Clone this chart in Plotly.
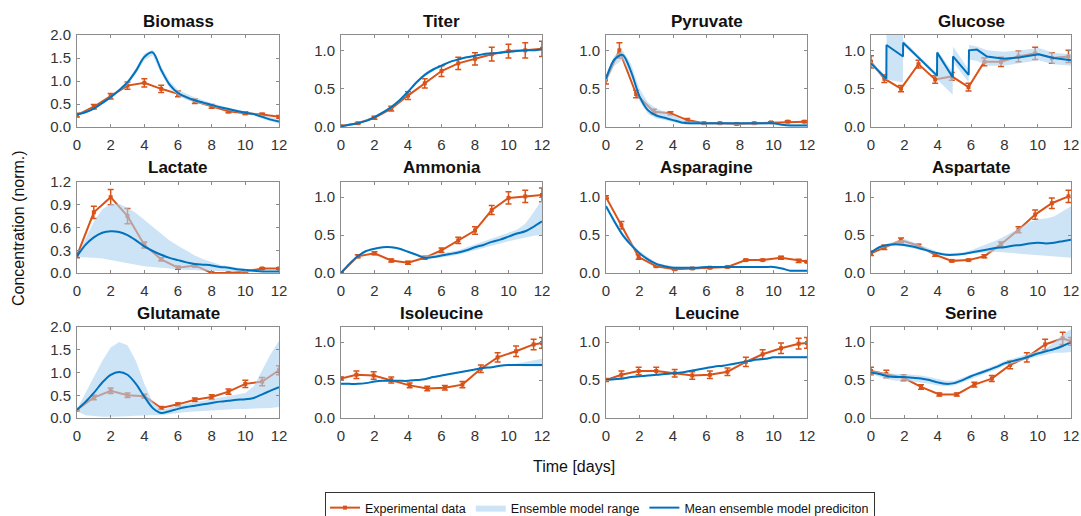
import plotly.graph_objects as go

# ---------------- data ----------------
T_EXP_A = [0, 1, 2, 3, 4, 5, 6, 7, 8, 9, 10, 11, 12]
T_EXP_B = [0, 0.92, 1.95, 3.0, 4.1, 5.15, 6.2, 7.25, 8.35, 9.35, 10.45, 11.5, 12]
T_EXP_C = [0, 0.8, 1.8, 2.85, 3.85, 4.85, 5.85, 6.8, 7.8, 8.85, 9.85, 10.85, 11.85]
T_MODEL = [0, 0.5, 1, 1.5, 2, 2.5, 3, 3.5, 4, 4.5, 5, 5.5, 6, 6.5, 7, 7.5, 8, 8.5,
           9, 9.5, 10, 10.5, 11, 11.5, 12]
T_GLUCOSE = [0, 0.92, 0.93, 1.92, 1.93, 3.0, 3.96, 3.97, 4.9, 4.92, 5.86, 5.88, 6.36,
             6.96, 7.96, 8.96, 10.06, 10.96, 12]

biomass_exp = [0.26, 0.44, 0.67, 0.90, 0.96, 0.83, 0.72, 0.56, 0.45, 0.34, 0.30, 0.27, 0.22]
biomass_err = [0.04, 0.05, 0.06, 0.08, 0.09, 0.08, 0.06, 0.05, 0.04, 0.03, 0.03, 0.03, 0.03]
biomass_mean = [0.27, 0.32, 0.40, 0.52, 0.65, 0.80, 0.97, 1.22, 1.52, 1.62, 1.24, 0.92, 0.74,
                0.65, 0.58, 0.53, 0.48, 0.43, 0.39, 0.35, 0.31, 0.28, 0.22, 0.16, 0.12]
biomass_lo = [0.25, 0.30, 0.38, 0.50, 0.62, 0.77, 0.92, 1.15, 1.45, 1.56, 1.16, 0.85, 0.68,
              0.59, 0.53, 0.49, 0.44, 0.40, 0.36, 0.32, 0.28, 0.25, 0.18, 0.12, 0.07]
biomass_hi = [0.29, 0.34, 0.42, 0.54, 0.68, 0.83, 1.01, 1.28, 1.59, 1.68, 1.32, 1.00, 0.81,
              0.72, 0.64, 0.58, 0.52, 0.47, 0.42, 0.38, 0.34, 0.31, 0.26, 0.21, 0.17]

titer_exp = [0.01, 0.05, 0.12, 0.24, 0.41, 0.57, 0.73, 0.83, 0.89, 0.95, 0.99, 1.00, 1.02]
titer_err = [0.01, 0.01, 0.02, 0.03, 0.05, 0.06, 0.07, 0.08, 0.08, 0.09, 0.09, 0.10, 0.10]
titer_mean = [0.01, 0.03, 0.05, 0.08, 0.13, 0.19, 0.26, 0.35, 0.46, 0.58, 0.68, 0.75, 0.80,
              0.85, 0.88, 0.91, 0.93, 0.95, 0.96, 0.97, 0.98, 0.99, 1.00, 1.00, 1.01]
titer_lo = [0.00, 0.02, 0.04, 0.07, 0.12, 0.18, 0.24, 0.33, 0.44, 0.56, 0.66, 0.73, 0.79,
            0.84, 0.87, 0.90, 0.92, 0.94, 0.95, 0.96, 0.97, 0.98, 0.99, 0.99, 1.00]
titer_hi = [0.02, 0.04, 0.06, 0.09, 0.14, 0.20, 0.28, 0.37, 0.48, 0.60, 0.70, 0.77, 0.82,
            0.86, 0.89, 0.92, 0.94, 0.96, 0.97, 0.98, 0.99, 1.00, 1.01, 1.01, 1.02]

pyruvate_exp = [0.62, 1.00, 0.43, 0.20, 0.18, 0.09, 0.05, 0.05, 0.04, 0.05, 0.06, 0.07, 0.07]
pyruvate_err = [0.06, 0.10, 0.05, 0.03, 0.02, 0.02, 0.01, 0.01, 0.01, 0.01, 0.01, 0.01, 0.01]
pyruvate_mean = [0.63, 0.88, 0.94, 0.72, 0.40, 0.22, 0.15, 0.12, 0.09, 0.06, 0.05, 0.05, 0.05,
                 0.05, 0.05, 0.05, 0.05, 0.05, 0.05, 0.05, 0.05, 0.03, 0.02, 0.02, 0.02]
pyruvate_lo = [0.58, 0.80, 0.88, 0.66, 0.34, 0.17, 0.11, 0.09, 0.07, 0.04, 0.03, 0.03, 0.03,
               0.03, 0.03, 0.03, 0.03, 0.03, 0.03, 0.03, 0.03, 0.02, 0.01, 0.01, 0.01]
pyruvate_hi = [0.68, 0.93, 1.00, 0.82, 0.50, 0.32, 0.24, 0.20, 0.16, 0.10, 0.07, 0.07, 0.06,
               0.06, 0.06, 0.06, 0.06, 0.06, 0.06, 0.06, 0.06, 0.05, 0.04, 0.04, 0.04]

glucose_exp = [0.85, 0.63, 0.50, 0.82, 0.62, 0.66, 0.52, 0.85, 0.85, 0.92, 0.96, 0.90, 0.92]
glucose_err = [0.08, 0.05, 0.04, 0.05, 0.05, 0.05, 0.05, 0.05, 0.06, 0.07, 0.08, 0.07, 0.08]
glucose_mean = [0.83, 0.63, 1.07, 0.92, 1.10, 0.88, 0.67, 0.97, 0.65, 0.92, 0.68, 1.00, 1.01,
                0.92, 0.89, 0.91, 0.95, 0.90, 0.87]
glucose_lo = [0.80, 0.61, 0.62, 0.58, 1.07, 0.85, 0.64, 0.62, 0.42, 0.85, 0.58, 0.88, 0.86,
              0.80, 0.80, 0.83, 0.87, 0.82, 0.80]
glucose_hi = [0.86, 0.66, 1.25, 1.25, 1.13, 0.91, 0.70, 1.00, 0.72, 1.05, 0.75, 1.07, 1.05,
              1.00, 0.98, 1.00, 1.03, 0.97, 0.95]

lactate_exp = [0.23, 0.80, 1.00, 0.75, 0.37, 0.18, 0.07, 0.10, 0.00, 0.00, 0.02, 0.06, 0.06]
lactate_err = [0.03, 0.08, 0.10, 0.10, 0.04, 0.02, 0.02, 0.02, 0.01, 0.01, 0.01, 0.01, 0.01]
lactate_mean = [0.22, 0.37, 0.47, 0.53, 0.55, 0.54, 0.50, 0.43, 0.35, 0.29, 0.24, 0.20, 0.17,
                0.14, 0.12, 0.11, 0.10, 0.08, 0.07, 0.05, 0.04, 0.03, 0.02, 0.02, 0.02]
lactate_lo = [0.21, 0.21, 0.20, 0.19, 0.17, 0.15, 0.13, 0.11, 0.09, 0.08, 0.07, 0.06, 0.05,
              0.04, 0.04, 0.03, 0.03, 0.02, 0.02, 0.02, 0.01, 0.01, 0.01, 0.01, 0.01]
lactate_hi = [0.22, 0.45, 0.68, 0.84, 0.91, 0.91, 0.86, 0.79, 0.70, 0.61, 0.52, 0.43, 0.36,
              0.29, 0.23, 0.18, 0.14, 0.11, 0.09, 0.07, 0.05, 0.04, 0.03, 0.03, 0.03]

ammonia_exp = [0.00, 0.22, 0.26, 0.165, 0.135, 0.20, 0.30, 0.43, 0.56, 0.83, 0.99, 1.01, 1.03]
ammonia_err = [0.01, 0.02, 0.02, 0.02, 0.02, 0.02, 0.03, 0.04, 0.05, 0.06, 0.08, 0.08, 0.09]
ammonia_mean = [0.00, 0.12, 0.22, 0.29, 0.32, 0.34, 0.34, 0.32, 0.28, 0.24, 0.20, 0.21, 0.23,
                0.25, 0.27, 0.30, 0.34, 0.37, 0.41, 0.44, 0.48, 0.52, 0.55, 0.61, 0.68]
ammonia_lo = [0.00, 0.11, 0.21, 0.28, 0.31, 0.33, 0.33, 0.31, 0.27, 0.23, 0.19, 0.19, 0.21,
              0.22, 0.24, 0.26, 0.30, 0.33, 0.36, 0.39, 0.42, 0.45, 0.47, 0.49, 0.50]
ammonia_hi = [0.00, 0.13, 0.23, 0.30, 0.33, 0.35, 0.35, 0.33, 0.29, 0.25, 0.22, 0.24, 0.26,
              0.28, 0.30, 0.34, 0.38, 0.42, 0.46, 0.49, 0.53, 0.57, 0.65, 0.80, 0.97]

asparagine_exp = [1.00, 0.63, 0.21, 0.09, 0.05, 0.06, 0.07, 0.08, 0.17, 0.17, 0.20, 0.16, 0.15]
asparagine_err = [0.02, 0.05, 0.03, 0.01, 0.01, 0.01, 0.01, 0.01, 0.01, 0.01, 0.02, 0.02, 0.01]
asparagine_mean = [0.88, 0.68, 0.50, 0.37, 0.26, 0.18, 0.12, 0.09, 0.07, 0.07, 0.07, 0.07, 0.08,
                   0.08, 0.08, 0.08, 0.08, 0.08, 0.08, 0.08, 0.08, 0.06, 0.03, 0.03, 0.03]
asparagine_lo = [0.85, 0.65, 0.47, 0.34, 0.24, 0.16, 0.10, 0.08, 0.06, 0.06, 0.06, 0.06, 0.07,
                 0.07, 0.07, 0.07, 0.07, 0.07, 0.07, 0.07, 0.07, 0.05, 0.02, 0.02, 0.02]
asparagine_hi = [0.91, 0.71, 0.53, 0.40, 0.29, 0.21, 0.14, 0.11, 0.09, 0.08, 0.08, 0.08, 0.09,
                 0.09, 0.09, 0.09, 0.09, 0.09, 0.09, 0.09, 0.09, 0.07, 0.04, 0.04, 0.04]

aspartate_exp = [0.26, 0.34, 0.43, 0.36, 0.24, 0.16, 0.17, 0.22, 0.38, 0.57, 0.77, 0.92, 1.01]
aspartate_err = [0.03, 0.03, 0.03, 0.02, 0.02, 0.01, 0.01, 0.02, 0.03, 0.04, 0.06, 0.07, 0.08]
aspartate_mean = [0.27, 0.34, 0.37, 0.38, 0.37, 0.35, 0.32, 0.29, 0.26, 0.24, 0.24, 0.25, 0.27,
                  0.29, 0.31, 0.33, 0.34, 0.36, 0.37, 0.39, 0.40, 0.39, 0.40, 0.42, 0.44]
aspartate_lo = [0.26, 0.32, 0.35, 0.36, 0.35, 0.33, 0.30, 0.27, 0.25, 0.23, 0.23, 0.24, 0.25,
                0.26, 0.27, 0.28, 0.28, 0.27, 0.26, 0.25, 0.24, 0.23, 0.22, 0.21, 0.20]
aspartate_hi = [0.28, 0.36, 0.39, 0.42, 0.45, 0.41, 0.37, 0.32, 0.28, 0.26, 0.26, 0.27, 0.30,
                0.34, 0.38, 0.43, 0.48, 0.54, 0.61, 0.67, 0.71, 0.72, 0.75, 0.81, 0.88]

glutamate_exp = [0.18, 0.45, 0.60, 0.50, 0.48, 0.22, 0.30, 0.40, 0.46, 0.58, 0.75, 0.80, 1.05]
glutamate_err = [0.02, 0.05, 0.06, 0.05, 0.04, 0.03, 0.03, 0.04, 0.05, 0.06, 0.08, 0.09, 0.10]
glutamate_mean = [0.18, 0.35, 0.55, 0.78, 0.95, 1.01, 0.95, 0.75, 0.47, 0.22, 0.11, 0.15, 0.20,
                  0.24, 0.27, 0.30, 0.33, 0.36, 0.38, 0.40, 0.41, 0.44, 0.52, 0.60, 0.68]
glutamate_lo = [0.15, 0.06, 0.04, 0.03, 0.03, 0.03, 0.04, 0.05, 0.06, 0.06, 0.06, 0.08, 0.11,
                0.13, 0.15, 0.16, 0.17, 0.18, 0.19, 0.20, 0.20, 0.20, 0.21, 0.22, 0.24]
glutamate_hi = [0.20, 0.55, 0.90, 1.25, 1.55, 1.67, 1.60, 1.25, 0.75, 0.35, 0.18, 0.22, 0.28,
                0.31, 0.35, 0.38, 0.42, 0.45, 0.48, 0.51, 0.55, 0.70, 1.05, 1.40, 1.70]

isoleucine_exp = [0.52, 0.57, 0.56, 0.50, 0.43, 0.39, 0.40, 0.44, 0.65, 0.80, 0.88, 0.97, 0.99]
isoleucine_err = [0.02, 0.05, 0.05, 0.04, 0.03, 0.03, 0.03, 0.04, 0.05, 0.06, 0.07, 0.07, 0.07]
isoleucine_mean = [0.45, 0.45, 0.45, 0.46, 0.48, 0.49, 0.49, 0.49, 0.49, 0.50, 0.51, 0.54, 0.56,
                   0.58, 0.60, 0.62, 0.64, 0.66, 0.67, 0.69, 0.70, 0.70, 0.70, 0.70, 0.70]
isoleucine_lo = [0.44, 0.44, 0.44, 0.45, 0.47, 0.48, 0.48, 0.48, 0.48, 0.49, 0.50, 0.53, 0.55,
                 0.57, 0.59, 0.61, 0.63, 0.65, 0.66, 0.68, 0.69, 0.69, 0.68, 0.68, 0.68]
isoleucine_hi = [0.46, 0.46, 0.46, 0.47, 0.49, 0.50, 0.50, 0.50, 0.50, 0.51, 0.52, 0.55, 0.57,
                 0.59, 0.61, 0.63, 0.65, 0.67, 0.68, 0.70, 0.71, 0.72, 0.74, 0.76, 0.78]

leucine_exp = [0.50, 0.57, 0.62, 0.62, 0.59, 0.56, 0.57, 0.61, 0.74, 0.84, 0.92, 0.98, 0.99]
leucine_err = [0.02, 0.05, 0.05, 0.05, 0.05, 0.05, 0.05, 0.05, 0.06, 0.06, 0.07, 0.07, 0.07]
leucine_mean = [0.50, 0.51, 0.52, 0.54, 0.55, 0.56, 0.57, 0.58, 0.59, 0.60, 0.62, 0.64, 0.66,
                0.68, 0.69, 0.71, 0.73, 0.75, 0.77, 0.78, 0.80, 0.80, 0.80, 0.80, 0.80]
leucine_lo = [0.49, 0.50, 0.51, 0.53, 0.54, 0.55, 0.56, 0.57, 0.58, 0.59, 0.61, 0.63, 0.65,
              0.67, 0.68, 0.70, 0.72, 0.74, 0.76, 0.77, 0.79, 0.79, 0.79, 0.79, 0.79]
leucine_hi = [0.51, 0.52, 0.53, 0.55, 0.56, 0.57, 0.58, 0.59, 0.60, 0.61, 0.63, 0.65, 0.67,
              0.69, 0.70, 0.72, 0.74, 0.76, 0.78, 0.79, 0.81, 0.81, 0.81, 0.81, 0.82]

serine_exp = [0.62, 0.58, 0.53, 0.41, 0.31, 0.31, 0.44, 0.52, 0.70, 0.80, 0.97, 1.05, 1.01]
serine_err = [0.05, 0.05, 0.04, 0.03, 0.02, 0.02, 0.03, 0.04, 0.05, 0.06, 0.07, 0.08, 0.05]
serine_mean = [0.60, 0.58, 0.55, 0.54, 0.54, 0.53, 0.52, 0.50, 0.47, 0.45, 0.46, 0.50, 0.55,
               0.59, 0.63, 0.67, 0.72, 0.75, 0.78, 0.81, 0.85, 0.88, 0.91, 0.95, 1.00]
serine_lo = [0.58, 0.55, 0.51, 0.49, 0.49, 0.48, 0.47, 0.45, 0.43, 0.42, 0.43, 0.47, 0.52,
             0.56, 0.60, 0.64, 0.69, 0.72, 0.75, 0.78, 0.81, 0.84, 0.86, 0.86, 0.87]
serine_hi = [0.62, 0.61, 0.59, 0.58, 0.58, 0.57, 0.56, 0.54, 0.52, 0.49, 0.49, 0.53, 0.58,
             0.62, 0.66, 0.70, 0.75, 0.78, 0.81, 0.84, 0.88, 0.92, 1.00, 1.10, 1.17]

X_TICKS = [0, 2, 4, 6, 8, 10, 12]
Y_TICKS_2 = [0, 0.5, 1.0, 1.5, 2.0]
Y_TICKS_1 = [0, 0.5, 1.0]
Y_TICKS_L = [0, 0.3, 0.6, 0.9, 1.2]

panels = [
    ("Biomass", T_EXP_A, biomass_exp, biomass_err, T_MODEL, biomass_mean, biomass_lo, biomass_hi, 2.0, Y_TICKS_2),
    ("Titer", T_EXP_A, titer_exp, titer_err, T_MODEL, titer_mean, titer_lo, titer_hi, 1.2, Y_TICKS_1),
    ("Pyruvate", T_EXP_C, pyruvate_exp, pyruvate_err, T_MODEL, pyruvate_mean, pyruvate_lo, pyruvate_hi, 1.2, Y_TICKS_1),
    ("Glucose", T_EXP_C, glucose_exp, glucose_err, T_GLUCOSE, glucose_mean, glucose_lo, glucose_hi, 1.2, Y_TICKS_1),
    ("Lactate", T_EXP_A, lactate_exp, lactate_err, T_MODEL, lactate_mean, lactate_lo, lactate_hi, 1.2, Y_TICKS_L),
    ("Ammonia", T_EXP_A, ammonia_exp, ammonia_err, T_MODEL, ammonia_mean, ammonia_lo, ammonia_hi, 1.2, Y_TICKS_1),
    ("Asparagine", T_EXP_B, asparagine_exp, asparagine_err, T_MODEL, asparagine_mean, asparagine_lo, asparagine_hi, 1.2, Y_TICKS_1),
    ("Aspartate", T_EXP_C, aspartate_exp, aspartate_err, T_MODEL, aspartate_mean, aspartate_lo, aspartate_hi, 1.2, Y_TICKS_1),
    ("Glutamate", T_EXP_A, glutamate_exp, glutamate_err, T_MODEL, glutamate_mean, glutamate_lo, glutamate_hi, 2.0, Y_TICKS_2),
    ("Isoleucine", T_EXP_B, isoleucine_exp, isoleucine_err, T_MODEL, isoleucine_mean, isoleucine_lo, isoleucine_hi, 1.2, Y_TICKS_1),
    ("Leucine", T_EXP_B, leucine_exp, leucine_err, T_MODEL, leucine_mean, leucine_lo, leucine_hi, 1.2, Y_TICKS_1),
    ("Serine", T_EXP_B, serine_exp, serine_err, T_MODEL, serine_mean, serine_lo, serine_hi, 1.2, Y_TICKS_1),
]

# ---------------- layout / style ----------------
W, H = 1081, 516
COLS = [(77, 279), (341, 542), (606, 807), (871, 1071)]
ROWS = [(35, 127), (182, 273), (327, 418)]
TITLE_Y = [22, 167, 313]
ORANGE = "#D95319"
BLUE = "#0072BD"
BAND = "rgba(172,210,242,0.6)"
AXC = "#8c8c8c"
FONT = "Liberation Sans, Arial, sans-serif"

fig = go.Figure()
layout = dict(
    width=W, height=H,
    margin=dict(l=0, r=0, t=0, b=0, autoexpand=False),
    paper_bgcolor="white", plot_bgcolor="white",
    font=dict(family=FONT, size=15, color="#333333"),
    showlegend=True,
    legend=dict(orientation="h", x=600 / W, xanchor="center", y=1 - 492 / H, yanchor="top",
                bordercolor="#333333", borderwidth=1, bgcolor="white",
                font=dict(size=12.5, color="#111111"), tracegroupgap=0, itemwidth=30),
)
annotations = []

for i, (name, tx, ex, er, tm, mean, lo, hi, ymax, yt) in enumerate(panels):
    r, c = divmod(i, 4)
    n = "" if i == 0 else str(i + 1)
    xa, ya = "x" + n, "y" + n
    first = i == 0
    shape = "linear" if name == "Glucose" else "spline"
    fig.add_trace(go.Scatter(
        x=tx, y=ex, mode="lines+markers", xaxis=xa, yaxis=ya,
        line=dict(color=ORANGE, width=2),
        marker=dict(symbol="square", size=4, color=ORANGE),
        error_y=dict(type="data", array=er, visible=True, color=ORANGE, thickness=1.5, width=3),
        name="Experimental data", legendgroup="exp", showlegend=first, hoverinfo="skip"))
    fig.add_trace(go.Scatter(
        x=list(tm) + list(tm)[::-1], y=list(hi) + list(lo)[::-1],
        mode="lines", fill="toself", fillcolor=BAND,
        line=dict(width=0, color="rgba(0,0,0,0)"), xaxis=xa, yaxis=ya,
        name="Ensemble model range", legendgroup="band", showlegend=first, hoverinfo="skip"))
    fig.add_trace(go.Scatter(
        x=tm, y=mean, mode="lines", xaxis=xa, yaxis=ya,
        line=dict(color=BLUE, width=2, shape=shape, smoothing=0.8),
        name="Mean ensemble model prediciton", legendgroup="mean", showlegend=first, hoverinfo="skip"))

    x0, x1 = COLS[c]
    y0, y1 = ROWS[r]
    layout["xaxis" + n] = dict(
        domain=[x0 / W, x1 / W], range=[0, 12], anchor=ya, tickvals=X_TICKS,
        showline=True, mirror="ticks", linecolor=AXC, linewidth=1,
        ticks="inside", ticklen=3, tickcolor=AXC, showgrid=False, zeroline=False,
        tickfont=dict(size=15, color="#333333"), ticklabelstandoff=4)
    fmt = [f"{v:.1f}" for v in yt]
    layout["yaxis" + n] = dict(
        domain=[1 - y1 / H, 1 - y0 / H], range=[0, ymax], anchor=xa,
        tickvals=yt, ticktext=fmt,
        showline=True, mirror="ticks", linecolor=AXC, linewidth=1,
        ticks="inside", ticklen=3, tickcolor=AXC, showgrid=False, zeroline=False,
        tickfont=dict(size=15, color="#333333"), ticklabelstandoff=2)
    annotations.append(dict(
        text="<b>" + name + "</b>", xref="paper", yref="paper",
        x=(x0 + x1) / 2 / W, y=1 - TITLE_Y[r] / H, xanchor="center", yanchor="middle",
        showarrow=False, font=dict(size=17, color="#111111", family=FONT)))

annotations.append(dict(text="Time [days]", xref="paper", yref="paper",
                        x=574 / W, y=1 - 466 / H, xanchor="center", yanchor="middle",
                        showarrow=False, font=dict(size=16, color="#111111", family=FONT)))
annotations.append(dict(text="Concentration (norm.)", xref="paper", yref="paper",
                        x=18 / W, y=1 - 228 / H, xanchor="center", yanchor="middle",
                        textangle=-90, showarrow=False,
                        font=dict(size=16, color="#111111", family=FONT)))
layout["annotations"] = annotations
fig.update_layout(**layout)
fig.write_html("out.html")
